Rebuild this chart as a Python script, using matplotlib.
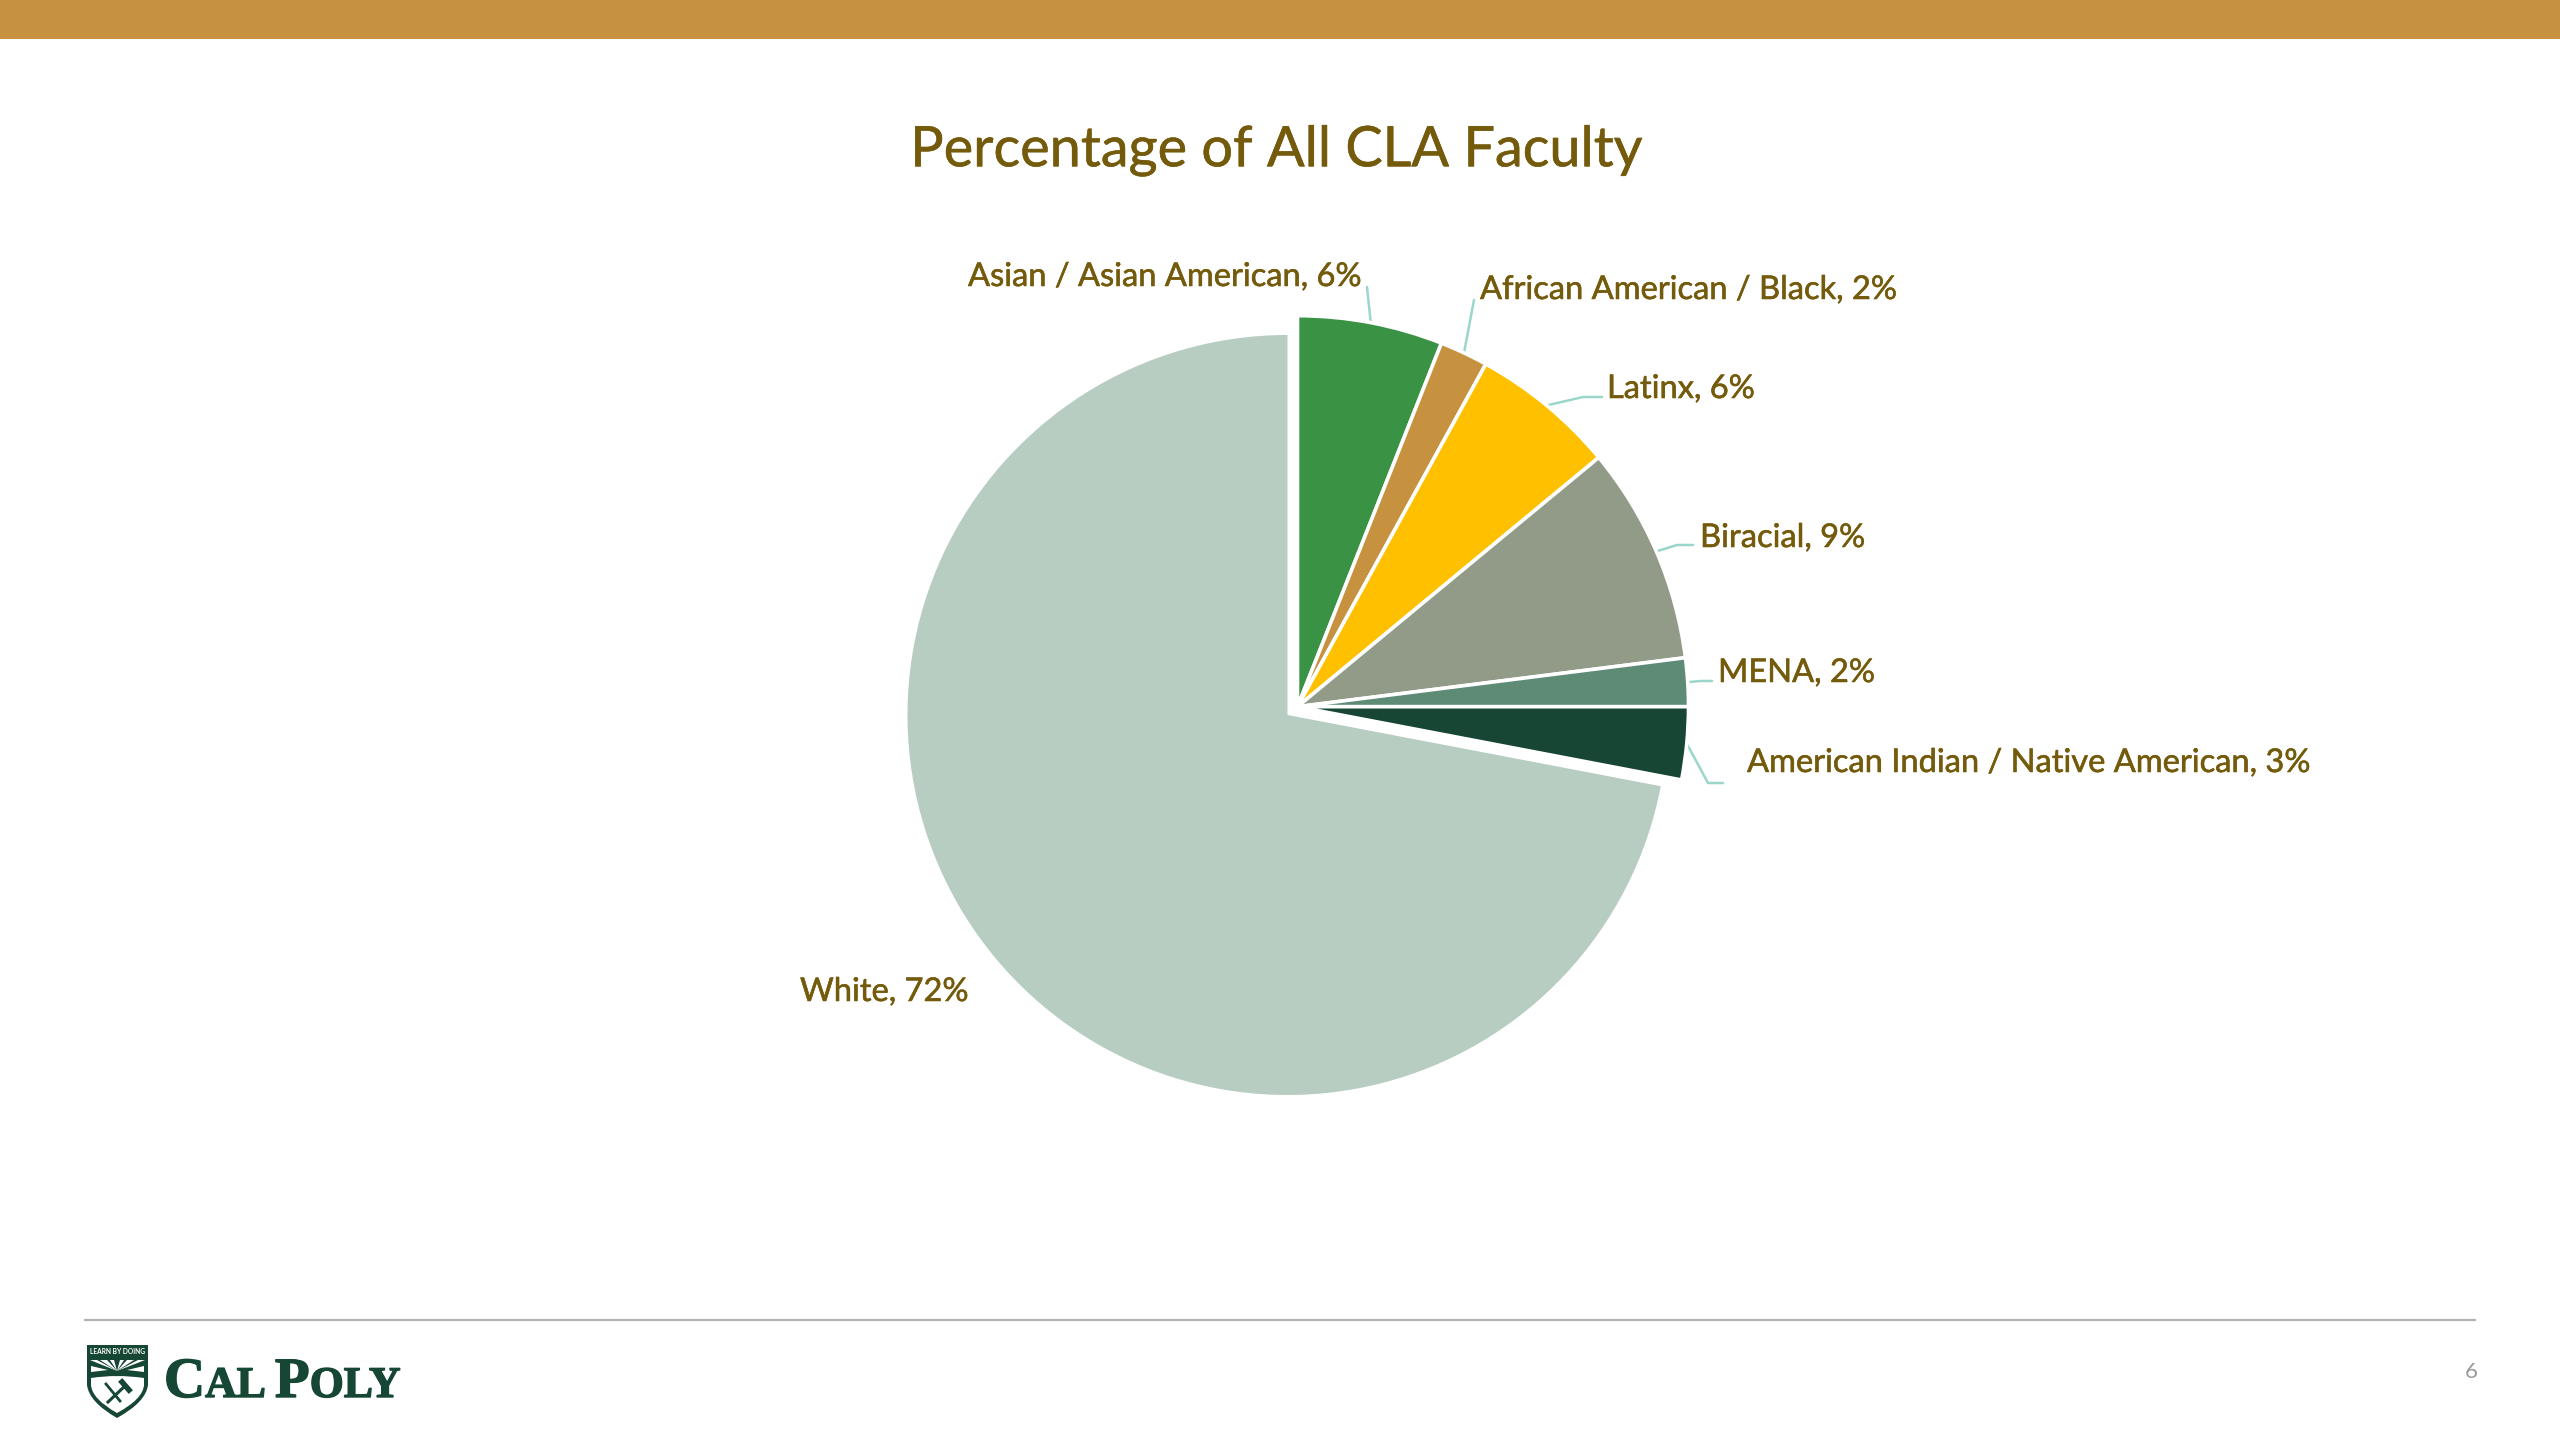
import matplotlib
matplotlib.use("Agg")
import numpy as np
import matplotlib.pyplot as plt
import matplotlib.patheffects as pe
from matplotlib.patches import Rectangle, Polygon, PathPatch
from matplotlib.path import Path

groups = ["Asian / Asian American", "African American / Black", "Latinx", "Biracial",
          "MENA", "American Indian / Native American", "White"]
shares = [6, 2, 6, 9, 2, 3, 72]
colors = ["#3A9245", "#C69240", "#FFC000", "#929A88", "#5E8B76", "#174734", "#B7CDC2"]

title_text = "Percentage of All CLA Faculty"
page_number = "6"

TEXT_COLOR = "#745B0C"
LEADER_COLOR = "#9AD6CA"
LOGO_GREEN = "#154734"

plt.rcParams["font.family"] = ["Lato", "DejaVu Sans"]

fig = plt.figure(figsize=(25.6, 14.4), dpi=100)
ax = fig.add_axes([0, 0, 1, 1])


# layout is worked out in pixels from the top left of the slide
def py(y):
    return 1440 - y


# thin outline so the text sits a bit heavier
heavier = [pe.withStroke(linewidth=0.4, foreground=TEXT_COLOR)]

# top band and footer rule
ax.add_patch(Rectangle((0, py(39)), 2560, 39, color="#C69240", lw=0, zorder=1))
ax.plot([85, 2475], [py(1320), py(1320)], color="#B4B4B4", lw=1.6, zorder=1)

# pie, the White slice is pulled out (explode is in pixels here) and drawn slightly smaller
cx, cy, radius = 1297.5, py(706.7), 391
wedges, _ = ax.pie(shares, colors=colors, center=(cx, cy), radius=radius,
                   startangle=90, counterclock=False,
                   explode=[0, 0, 0, 0, 0, 0, 13],
                   wedgeprops={"edgecolor": "white", "linewidth": 2.6}, frame=True)
wedges[-1].set_radius(380)
wedges[-1].set_edgecolor("none")

label_pos = [(968, 277), (1480, 290), (1607, 389), (1700, 538), (1718, 673), (1747, 763), (800, 992)]
# leader lines run from the slice edge through these points to the label
leader_pts = [
    [(1367, 287)],
    [(1474, 300)],
    [(1583, 397), (1602, 397)],
    [(1677, 545), (1693, 545)],
    [(1700, 681), (1712, 681)],
    [(1708, 783), (1723, 783)],
    [],
]

for wedge, name, share, pos, pts in zip(wedges, groups, shares, label_pos, leader_pts):
    ax.text(pos[0], py(pos[1]), f"{name}, {share}%", color=TEXT_COLOR, fontsize=23.5,
            ha="left", va="center", zorder=5, path_effects=heavier)
    if pts:
        mid = np.deg2rad((wedge.theta1 + wedge.theta2) / 2)
        xs = [cx + radius * np.cos(mid)] + [p[0] for p in pts]
        ys = [cy + radius * np.sin(mid)] + [py(p[1]) for p in pts]
        ax.plot(xs, ys, color=LEADER_COLOR, lw=1.8, zorder=0.5, solid_capstyle="round")

ax.text(1277, py(151), title_text, color=TEXT_COLOR, fontsize=40.2, ha="center", va="center",
        path_effects=heavier)
ax.text(2471, py(1372), page_number, color="#9A9A9A", fontsize=16, ha="center", va="center")

# shield
shield = Path(
    [(87, py(1345)), (148, py(1345)), (148, py(1385)), (146, py(1402)), (117, py(1418)),
     (89, py(1402)), (87, py(1385)), (87, py(1345)), (87, py(1345))],
    [Path.MOVETO, Path.LINETO, Path.LINETO, Path.CURVE3, Path.CURVE3,
     Path.CURVE3, Path.CURVE3, Path.LINETO, Path.CLOSEPOLY])
ax.add_patch(PathPatch(shield, facecolor=LOGO_GREEN, edgecolor="none", zorder=3))
ax.text(117.5, py(1352), "LEARN BY DOING", color="white", fontsize=4.8, fontweight="bold",
        ha="center", va="center", zorder=4)
for x0, x1 in [(90, 97), (100, 107), (110, 114), (120, 124), (127, 134), (138, 145)]:
    ax.add_patch(Polygon([(117, py(1371)), (x0, py(1360)), (x1, py(1360))],
                         color="white", lw=0, zorder=4))
ax.add_patch(Polygon([(91, py(1366)), (108, py(1370)), (91, py(1372))], color="white", lw=0, zorder=4))
ax.add_patch(Polygon([(144, py(1366)), (127, py(1370)), (144, py(1372))], color="white", lw=0, zorder=4))
lower = Path(
    [(91, py(1378)), (117, py(1374)), (144, py(1378)), (144, py(1385)), (143, py(1399)), (117, py(1413)),
     (92, py(1399)), (91, py(1385)), (91, py(1378)), (91, py(1378))],
    [Path.MOVETO, Path.CURVE3, Path.CURVE3, Path.LINETO, Path.CURVE3, Path.CURVE3,
     Path.CURVE3, Path.CURVE3, Path.LINETO, Path.CLOSEPOLY])
ax.add_patch(PathPatch(lower, facecolor="white", edgecolor="none", zorder=4))
ax.plot([108, 125], [py(1402), py(1386)], color=LOGO_GREEN, lw=2.2, zorder=5)
ax.plot([122, 129], [py(1382), py(1390)], color=LOGO_GREEN, lw=4, zorder=5)
ax.plot([106, 120], [py(1384), py(1401)], color=LOGO_GREEN, lw=2, zorder=5)

# wordmark set as small caps, each run starts where the last one ended
renderer = fig.canvas.get_renderer()
x_pos = 164
for run, size in [("C", 41), ("AL", 31.5), (" ", 31.5), ("P", 41), ("OLY", 31.5)]:
    t = ax.text(x_pos, py(1397), run, color=LOGO_GREEN, fontsize=size, fontweight="bold",
                family="Liberation Serif", ha="left", va="baseline", zorder=3,
                path_effects=[pe.withStroke(linewidth=1.0, foreground=LOGO_GREEN)])
    if run == " ":
        x_pos += 9
    else:
        x_pos += t.get_window_extent(renderer).width

ax.set_xlim(0, 2560)
ax.set_ylim(0, 1440)
ax.set_aspect("equal")
ax.axis("off")

fig.savefig("out.png", dpi=100, facecolor="white")
